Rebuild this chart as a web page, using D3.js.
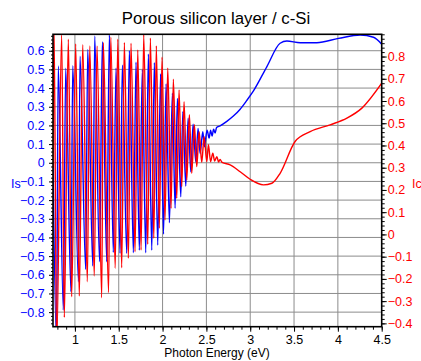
<!DOCTYPE html>
<html>
<head>
<meta charset="utf-8">
<script src="https://cdn.jsdelivr.net/npm/d3@7"></script>
<style>
  body { margin: 0; background: #fff; }
  svg { display: block; font-family: "Liberation Sans", Arial, sans-serif; }
  .grid line { stroke: #8c8c8c; stroke-width: 1; }
  .line { fill: none; stroke-width: 1.4; stroke-linejoin: round; }
</style>
</head>
<body>
<div class="container-chart"></div>
<script>
/* --------------------------------------------------------- */
/* DATA                     */
/* --------------------------------------------------------- */
const xTicks = [1, 1.5, 2, 2.5, 3, 3.5, 4, 4.5];
const isTicks = [-0.8, -0.7, -0.6, -0.5, -0.4, -0.3, -0.2, -0.1, 0, 0.1, 0.2, 0.3, 0.4, 0.5, 0.6];
const icTicks = [-0.4, -0.3, -0.2, -0.1, 0, 0.1, 0.2, 0.3, 0.4, 0.5, 0.6, 0.7, 0.8];

// Is (blue, left axis): photon energy (eV), value
const isEnergy = [
  0.75, 0.790, 0.810, 0.868, 0.895, 0.955, 0.975, 1.041, 1.058, 1.123, 1.146,
  1.204, 1.226, 1.281, 1.313, 1.363, 1.393, 1.438, 1.469, 1.515, 1.541, 1.591,
  1.621, 1.667, 1.697, 1.735, 1.769, 1.808, 1.838, 1.877, 1.906, 1.945, 1.977,
  2.011, 2.040, 2.078, 2.112, 2.143, 2.169, 2.208, 2.231, 2.265, 2.291, 2.322,
  2.348, 2.379, 2.405, 2.428, 2.459, 2.477, 2.508, 2.531, 2.548, 2.565, 2.582,
  2.599, 2.616, 2.656, 2.733, 2.808, 2.885, 2.961, 3.037, 3.189, 3.341, 3.418,
  3.570, 3.760, 4.007, 4.255, 4.406, 4.5
];
const isValue = [
  0.00, -0.95, 0.518, -0.789, 0.506, -0.690, 0.520, -0.637, 0.571, -0.571, 0.607,
  -0.553, 0.679, -0.530, 0.648, -0.530, 0.684, -0.480, 0.506, -0.485, 0.523, -0.485,
  0.600, -0.482, 0.538, -0.468, 0.500, -0.482, 0.582, -0.468, 0.536, -0.441, 0.475,
  -0.382, 0.422, -0.321, 0.372, -0.244, 0.345, -0.182, 0.273, -0.125, 0.238, -0.048,
  0.207, 0.005, 0.184, 0.050, 0.166, 0.086, 0.175, 0.132, 0.175, 0.143, 0.180,
  0.159, 0.189, 0.198, 0.222, 0.250, 0.287, 0.334, 0.385, 0.514, 0.640, 0.652,
  0.643, 0.643, 0.666, 0.684, 0.672, 0.635
];

// Ic (red, right axis): photon energy (eV), value
const icEnergy = [
  0.75, 0.761, 0.792, 0.849, 0.879, 0.925, 0.963, 1.009, 1.050, 1.089, 1.142,
  1.169, 1.221, 1.252, 1.306, 1.324, 1.384, 1.409, 1.460, 1.489, 1.534, 1.564,
  1.610, 1.640, 1.686, 1.717, 1.755, 1.785, 1.831, 1.861, 1.900, 1.929, 1.963,
  1.994, 2.028, 2.059, 2.097, 2.123, 2.162, 2.188, 2.219, 2.245, 2.276, 2.306,
  2.333, 2.363, 2.390, 2.417, 2.447, 2.474, 2.505, 2.523, 2.548, 2.573, 2.594,
  2.619, 2.639, 2.656, 2.679, 2.771, 2.885, 2.999, 3.151, 3.247, 3.341, 3.512,
  3.684, 3.912, 4.103, 4.274, 4.5
];
const icValue = [
  0.30, 0.95, -0.50, 0.898, -0.373, 0.878, -0.280, 0.857, -0.277, 0.853, -0.213,
  0.848, -0.187, 0.848, -0.285, 0.863, -0.262, 0.887, -0.152, 0.878, -0.150, 0.863,
  -0.107, 0.860, -0.078, 0.830, -0.070, 0.898, -0.044, 0.883, -0.017, 0.848, 0.028,
  0.797, 0.065, 0.748, 0.118, 0.698, 0.163, 0.650, 0.215, 0.597, 0.245, 0.538,
  0.275, 0.493, 0.305, 0.462, 0.325, 0.440, 0.327, 0.403, 0.327, 0.365, 0.330,
  0.350, 0.326, 0.337, 0.324, 0.313, 0.282, 0.248, 0.223, 0.230, 0.275, 0.418,
  0.462, 0.493, 0.523, 0.568, 0.680
];

/* --------------------------------------------------------- */
/* DRAW CHART                                                */
/* --------------------------------------------------------- */
const width = 421, height = 361;
const margin = { top: 34.3, right: 39.3, bottom: 34.3, left: 53 };
const blue = "#0000ff", red = "#ff0000";

const x = d3.scaleLinear().domain([0.75, 4.5])
    .range([margin.left, width - margin.right]);
const yIs = d3.scaleLinear().domain([-0.878, 0.688])
    .range([height - margin.bottom, margin.top]);
const yIc = d3.scaleLinear().domain([-0.415, 0.9])
    .range([height - margin.bottom, margin.top]);

const svg = d3.select(".container-chart")
    .append("svg")
    .attr("width", width)
    .attr("height", height);

svg.append("defs").append("clipPath").attr("id", "plot-clip")
    .append("rect")
    .attr("x", margin.left).attr("y", margin.top)
    .attr("width", x.range()[1] - margin.left)
    .attr("height", yIs.range()[0] - margin.top);

// grid lines
const grid = svg.append("g").attr("class", "grid");
grid.selectAll(".gx")
    .data(xTicks.filter(d => d < 4.5))
    .enter().append("line")
    .attr("x1", d => x(d)).attr("x2", d => x(d))
    .attr("y1", margin.top).attr("y2", yIs.range()[0]);
grid.selectAll(".gy")
    .data(isTicks)
    .enter().append("line")
    .attr("x1", margin.left).attr("x2", x.range()[1])
    .attr("y1", d => yIs(d)).attr("y2", d => yIs(d));

// the two series
const plot = svg.append("g").attr("clip-path", "url(#plot-clip)");

const lineIs = d3.line().curve(d3.curveMonotoneX).x(d => x(d[0])).y(d => yIs(d[1]));
const lineIc = d3.line().curve(d3.curveMonotoneX).x(d => x(d[0])).y(d => yIc(d[1]));

plot.append("path")
    .datum(isEnergy.map((e, i) => [e, isValue[i]]))
    .attr("class", "line")
    .attr("stroke", blue)
    .attr("d", lineIs);

plot.append("path")
    .datum(icEnergy.map((e, i) => [e, icValue[i]]))
    .attr("class", "line")
    .attr("stroke", red)
    .attr("d", lineIc);

// minor ticks (no labels)
const minor = (scale, step) => d3.range(
    Math.ceil(scale.domain()[0] / step - 1e-6) * step,
    scale.domain()[1] + 1e-9, step);

const xAxis = svg.append("g")
    .attr("transform", `translate(0,${yIs.range()[0]})`);
xAxis.call(d3.axisBottom(x).tickValues(minor(x, 0.1)).tickSize(3).tickFormat(""));
xAxis.call(g => g.append("g").call(d3.axisBottom(x).tickValues(xTicks).tickSize(5).tickFormat(d3.format("")))
    .selectAll("text").attr("fill", "#000"));

const leftAxis = svg.append("g")
    .attr("transform", `translate(${margin.left},0)`);
leftAxis.call(d3.axisLeft(yIs).tickValues(minor(yIs, 0.02)).tickSize(2).tickFormat(""));
leftAxis.call(g => g.append("g").call(d3.axisLeft(yIs).tickValues(isTicks).tickSize(4).tickFormat(d3.format("")))
    .selectAll("text").attr("fill", blue).attr("dx", "-0.1em"));

const rightAxis = svg.append("g")
    .attr("transform", `translate(${x.range()[1]},0)`);
rightAxis.call(d3.axisRight(yIc).tickValues(minor(yIc, 0.02)).tickSize(3).tickFormat(""));
rightAxis.call(g => g.append("g").call(d3.axisRight(yIc).tickValues(icTicks).tickSize(5).tickFormat(d3.format("")))
    .selectAll("text").attr("fill", red).attr("dx", "-0.15em"));

svg.selectAll(".domain").remove();
svg.selectAll(".tick line").attr("stroke", "#000");
svg.selectAll(".tick text").style("font-size", "12.5px");

// frame
svg.append("rect")
    .attr("x", margin.left).attr("y", margin.top)
    .attr("width", x.range()[1] - margin.left)
    .attr("height", yIs.range()[0] - margin.top)
    .attr("fill", "none")
    .attr("stroke", "#000")
    .attr("stroke-width", 1.6);

// titles
svg.append("text")
    .attr("x", 216).attr("y", 24)
    .attr("text-anchor", "middle")
    .style("font-size", "16.8px")
    .text("Porous silicon layer / c-Si");

svg.append("text")
    .attr("x", 217).attr("y", 357)
    .attr("text-anchor", "middle")
    .style("font-size", "12px")
    .text("Photon Energy (eV)");

svg.append("text")
    .attr("x", 11).attr("y", 188)
    .attr("fill", blue)
    .style("font-size", "12.5px")
    .text("Is");

svg.append("text")
    .attr("x", 412).attr("y", 188)
    .attr("fill", red)
    .style("font-size", "12.5px")
    .text("Ic");
</script>
</body>
</html>
